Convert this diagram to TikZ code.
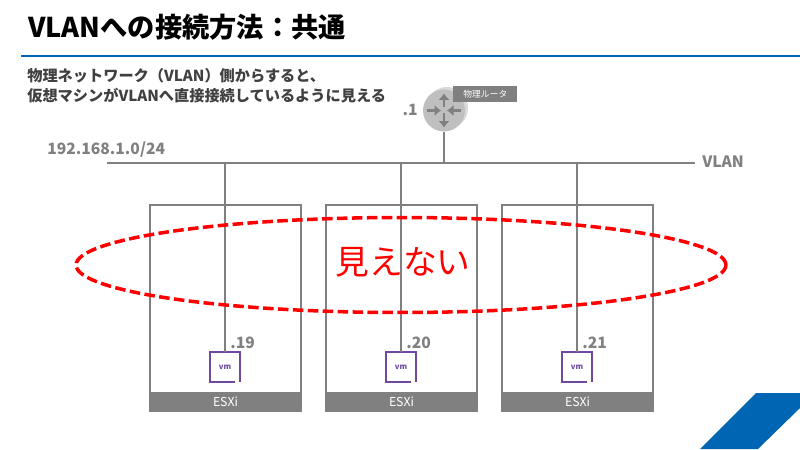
\documentclass[tikz,border=0pt]{standalone}
\usepackage{fontspec}
\setmainfont{Noto Sans CJK JP}
\usepackage{xcolor}
\usetikzlibrary{arrows.meta,shapes.geometric}
\definecolor{slideBlue}{RGB}{0, 102, 179}
\definecolor{slideGray}{RGB}{128, 128, 128}
\definecolor{slideDark}{RGB}{64, 64, 64}
\definecolor{routerGray}{RGB}{191, 191, 191}
\definecolor{routerLight}{RGB}{217, 217, 217}
\definecolor{vmPurple}{RGB}{112, 72, 160}
\tikzset{
  hostbox/.style={draw=slideGray, line width=0.9pt, minimum width=3.02cm, minimum height=4.12cm, inner sep=0pt},
  hostbar/.style={fill=slideGray, text=white, font=\fontsize{7}{8}\selectfont, minimum width=3.02cm, minimum height=0.38cm, inner sep=0pt},
  vmbox/.style={minimum width=0.6cm, minimum height=0.6cm, inner sep=0pt, text=vmPurple, font=\fontsize{4.4}{5}\selectfont\bfseries},
  netline/.style={draw=slideGray, line width=0.9pt},
  iplabel/.style={text=slideGray, font=\fontsize{8.9}{10}\selectfont\bfseries, inner sep=0pt},
  vmframe/.style={draw=vmPurple, line width=1.1pt},
  rtarrow/.style={draw=slideGray, line width=1.5pt, -{Latex[length=1.3mm,width=2.3mm]}}
}
\begin{document}
\begin{tikzpicture}[x=0.02cm, y=-0.02cm]
  \useasboundingbox (0,0) rectangle (800,449);
  % Header
  \node[anchor=base west, inner sep=0pt, font=\fontsize{15.5}{18}\selectfont\bfseries] (title) at (28,38) {VLANへの接続方法：共通};
  \fill[slideBlue] (21,55) rectangle (800,57.5);
  \node[anchor=north west, inner sep=0pt, align=left, text=slideDark, font=\fontsize{8.65}{11.2}\selectfont\bfseries] (lead) at (27,68) {物理ネットワーク（VLAN）側からすると、\\仮想マシンがVLANへ直接接続しているように見える};
  % Corner mark
  \fill[slideBlue] (756,393) -- (800,393) -- (800,408) -- (758,449) -- (700,449) -- cycle;

  % Network
  \coordinate (vlanL) at (107,163);
  \coordinate (vlanR) at (695,163);
  \draw[netline] (vlanL) -- (vlanR);
  \node[anchor=west, iplabel] (vlanlabel) at (702,162) {VLAN};
  \node[anchor=west, iplabel] (subnet) at (47,150) {192.168.1.0/24};

  % Router
  \fill[routerLight] (447,108) circle (21);
  \node[circle, fill=routerGray, minimum size=0.84cm, inner sep=0pt] (router) at (444,110.5) {};
  \draw[rtarrow] (router.center) ++(0,-3) -- ++(0,-14);
  \draw[rtarrow] (router.center) ++(0,3) -- ++(0,14);
  \draw[rtarrow] (router.center) ++(-17,0) -- ++(14,0);
  \draw[rtarrow] (router.center) ++(17,0) -- ++(-14,0);
  \node[fill=slideGray, text=white, anchor=north west, minimum width=1.28cm, minimum height=0.32cm, inner sep=0pt, font=\fontsize{5}{6}\selectfont] (routerlabel) at (453,86) {物理ルータ};
  \node[iplabel, anchor=east] (routerip) at (418,110) {.1};
  \draw[netline] (router.south) -- (router.south |- vlanL);

  % Hosts
  \node[hostbox] (host1) at (225.5,308) {};
  \node[hostbox] (host2) at (401.5,308) {};
  \node[hostbox] (host3) at (577.5,308) {};
  \node[hostbar, anchor=south] (esxi1) at (host1.south) {ESXi};
  \node[hostbar, anchor=south] (esxi2) at (host2.south) {ESXi};
  \node[hostbar, anchor=south] (esxi3) at (host3.south) {ESXi};

  % VMs
  \node[vmbox] (vm1) at (225,367) {vm};
  \node[vmbox] (vm2) at (401,367) {vm};
  \node[vmbox] (vm3) at (577,367) {vm};
  \draw[vmframe] ([xshift=-3pt]vm1.south east) -- (vm1.south west) -- (vm1.north west) -- (vm1.north east) -- (vm1.south east);
  \draw[vmframe] ([xshift=-3pt]vm2.south east) -- (vm2.south west) -- (vm2.north west) -- (vm2.north east) -- (vm2.south east);
  \draw[vmframe] ([xshift=-3pt]vm3.south east) -- (vm3.south west) -- (vm3.north west) -- (vm3.north east) -- (vm3.south east);
  \node[iplabel, anchor=west] (ip1) at (230,343) {.19};
  \node[iplabel, anchor=west] (ip2) at (406,343) {.20};
  \node[iplabel, anchor=west] (ip3) at (582,343) {.21};
  \draw[netline] (vm1.north |- vlanL) -- (vm1.north);
  \draw[netline] (vm2.north |- vlanL) -- (vm2.north);
  \draw[netline] (vm3.north |- vlanL) -- (vm3.north);

  % Hidden area
  \node[ellipse, draw=red, dash pattern=on 6pt off 2.5pt, line width=2pt, minimum width=13cm, minimum height=1.9cm, inner sep=0pt] (hidden) at (401,265) {};
  \node[text=red, inner sep=0pt, font=\fontsize{19.2}{22}\selectfont] (hiddenlabel) at (403,262) {見えない};
\end{tikzpicture}
\end{document}
